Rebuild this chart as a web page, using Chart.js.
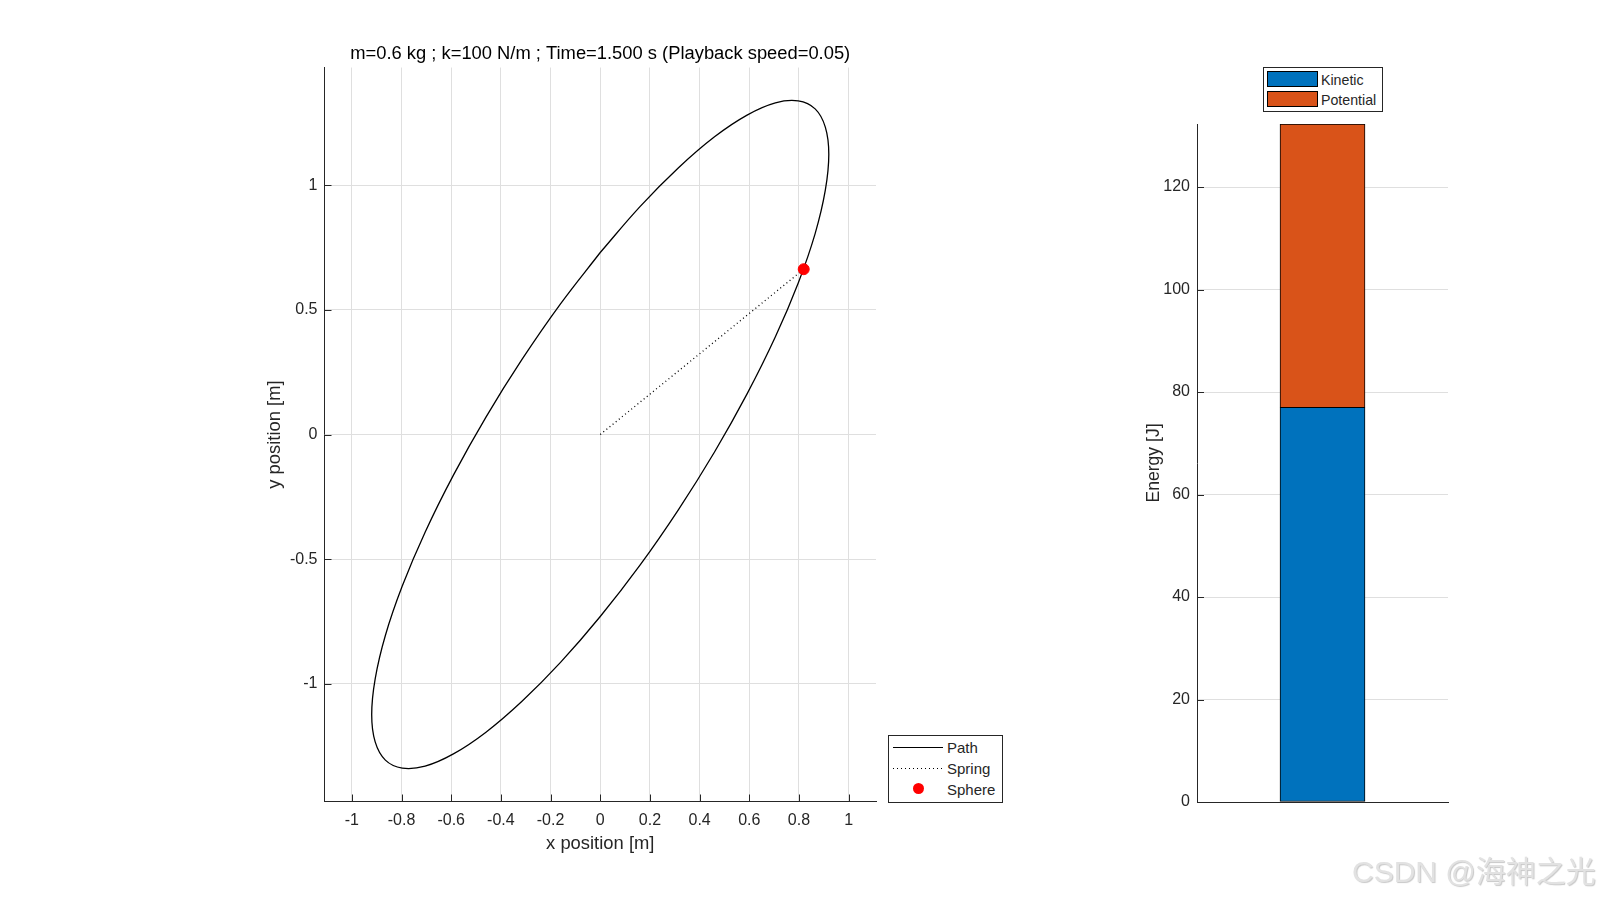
<!DOCTYPE html>
<html>
<head>
<meta charset="utf-8">
<title>Spring orbit</title>
<script src="https://cdn.jsdelivr.net/npm/chart.js@4"></script>
<style>
  html, body { margin: 0; padding: 0; background: #fff; }
  body { width: 1600px; height: 900px; position: relative; overflow: hidden; font-family: "Liberation Sans", Arial, sans-serif; }
  canvas { position: absolute; top: 0; }
  #orbit { left: 0; }
  #energy { left: 1140px; }
  .legend { position: absolute; background: #fff; border: 1px solid #262626; box-sizing: border-box; color: #262626; }
  .legend span { position: absolute; white-space: nowrap; line-height: 18px; }
  .legend i { position: absolute; display: block; }
  #orbitLegend { left: 888px; top: 735px; width: 115px; height: 68px; font-size: 15px; }
  #energyLegend { left: 1263px; top: 67px; width: 120px; height: 45px; font-size: 14.2px; }
  .patch { border: 1px solid #000; box-sizing: border-box; }
  #mark { position: absolute; left: 1352px; top: 854px; font-size: 30px; line-height: 36px; white-space: nowrap;
    color: #e2e2e2; text-shadow: 1px 1px 1px #c8c8c8; font-family: "Liberation Sans", "Noto Sans CJK SC", sans-serif; }
</style>
</head>
<body>
<canvas id="orbit" width="1040" height="900"></canvas>
<canvas id="energy" width="460" height="900"></canvas>

<div class="legend" id="orbitLegend">
  <i style="left:4px;top:11px;width:50px;height:1px;background:#000"></i>
  <span style="left:58px;top:3px">Path</span>
  <i style="left:4px;top:32px;width:50px;height:1px;background:repeating-linear-gradient(90deg,#000 0 1px,transparent 1px 4px)"></i>
  <span style="left:58px;top:24px">Spring</span>
  <i style="left:24px;top:47px;width:11px;height:11px;border-radius:50%;background:#ff0000"></i>
  <span style="left:58px;top:45px">Sphere</span>
</div>
<div class="legend" id="energyLegend">
  <i class="patch" style="left:3px;top:3px;width:51px;height:16px;background:#0072BD"></i>
  <span style="left:57px;top:3px">Kinetic</span>
  <i class="patch" style="left:3px;top:23px;width:51px;height:16px;background:#D95319"></i>
  <span style="left:57px;top:23px">Potential</span>
</div>
<div id="mark">CSDN @海神之光</div>

<script>
// path
const pathX = [0, -0.16, -0.315, -0.46, -0.591, -0.705, -0.797, -0.865, -0.906, -0.92,
  -0.906, -0.865, -0.797, -0.705, -0.591, -0.46, -0.315, -0.16, 0,
  0.16, 0.315, 0.46, 0.591, 0.705, 0.797, 0.865, 0.906, 0.92,
  0.906, 0.865, 0.797, 0.705, 0.591, 0.46, 0.315, 0.16, 0];
const pathY = [0.73, 0.524, 0.301, 0.07, -0.163, -0.392, -0.608, -0.806, -0.98, -1.124,
  -1.233, -1.306, -1.338, -1.33, -1.281, -1.194, -1.07, -0.914, -0.73,
  -0.524, -0.301, -0.07, 0.163, 0.392, 0.608, 0.806, 0.98, 1.124,
  1.233, 1.306, 1.338, 1.33, 1.281, 1.194, 1.07, 0.914, 0.73];
const springX = [0, 0.819];
const springY = [0, 0.663];
const sphereX = [0.819];
const sphereY = [0.663];
const xTicks = [-1, -0.8, -0.6, -0.4, -0.2, 0, 0.2, 0.4, 0.6, 0.8, 1];
const yTicks = [-1, -0.5, 0, 0.5, 1];

// energy bar
const barLabels = ["E"];
const kinetic = [77];
const potential = [55.3];
const energyTicks = [0, 20, 40, 60, 80, 100, 120];

const toPoints = (xs, ys) => xs.map((x, i) => ({ x: x, y: ys[i] }));

const axisColor = "#262626";
const gridColor = "#dfdfdf";
const tickFont = { family: "Liberation Sans", size: 16 };
const labelFont = { family: "Liberation Sans", size: 18.4 };

// fixed axis size so the plot area lands where it should
const fitAxis = (size) => (scale) => {
  if (scale.isHorizontal()) scale.height = size;
  else scale.width = size;
  scale.paddingLeft = scale.paddingRight = scale.paddingTop = scale.paddingBottom = 0;
};
const useTicks = (values) => (scale) => {
  scale.ticks = values.map((v) => ({ value: v }));
};

// matlab style ticks, pointing into the plot
const innerTicks = {
  id: "innerTicks",
  afterDatasetsDraw(chart) {
    const { ctx, chartArea } = chart;
    ctx.save();
    ctx.strokeStyle = axisColor;
    ctx.lineWidth = 1;
    Object.values(chart.scales).forEach((scale) => {
      scale.ticks.forEach((t) => {
        const p = Math.round(scale.getPixelForValue(t.value)) + 0.5;
        ctx.beginPath();
        if (scale.isHorizontal()) {
          ctx.moveTo(p, chartArea.bottom);
          ctx.lineTo(p, chartArea.bottom - 7);
        } else {
          ctx.moveTo(chartArea.left, p);
          ctx.lineTo(chartArea.left + 7, p);
        }
        ctx.stroke();
      });
    });
    ctx.restore();
  },
};

new Chart(document.getElementById("orbit"), {
  type: "scatter",
  plugins: [innerTicks],
  data: {
    datasets: [
      {
        label: "Path",
        data: toPoints(pathX, pathY),
        showLine: true,
        borderColor: "#000",
        borderWidth: 1.3,
        pointRadius: 0,
        tension: 0.4,
        order: 2,
      },
      {
        label: "Spring",
        data: toPoints(springX, springY),
        showLine: true,
        borderColor: "#000",
        borderWidth: 1.3,
        borderDash: [1, 3],
        pointRadius: 0,
        order: 1,
      },
      {
        label: "Sphere",
        data: toPoints(sphereX, sphereY),
        backgroundColor: "#ff0000",
        borderColor: "#ff0000",
        pointRadius: 5.5,
        order: 0,
      },
    ],
  },
  options: {
    responsive: false,
    animation: false,
    layout: {
      padding: { left: 264, right: 164, top: 43, bottom: 45.4 },
    },
    plugins: {
      legend: { display: false },
      tooltip: { enabled: false },
      title: {
        display: true,
        fullSize: false,
        text: "m=0.6 kg ; k=100 N/m ; Time=1.500 s (Playback speed=0.05)",
        color: "#000",
        font: { family: "Liberation Sans", size: 18.35, weight: "normal" },
        padding: { top: 0, bottom: 2.5 },
      },
    },
    scales: {
      x: {
        type: "linear",
        position: "bottom",
        min: -1.11,
        max: 1.11,
        afterBuildTicks: useTicks(xTicks),
        afterFit: fitAxis(53.1),
        grid: { color: gridColor, drawTicks: false },
        border: { color: axisColor },
        ticks: {
          color: axisColor,
          font: tickFont,
          padding: 9,
          maxRotation: 0,
          autoSkip: false,
          callback: (v) => String(v),
        },
        title: { display: true, text: "x position [m]", color: axisColor, font: labelFont, padding: 0 },
      },
      y: {
        type: "linear",
        position: "left",
        min: -1.472,
        max: 1.472,
        afterBuildTicks: useTicks(yTicks),
        afterFit: fitAxis(60.5),
        grid: { color: gridColor, drawTicks: false },
        border: { color: axisColor },
        ticks: {
          color: axisColor,
          font: tickFont,
          padding: 7,
          autoSkip: false,
          callback: (v) => String(v),
        },
        title: { display: true, text: "y position [m]", color: axisColor, font: labelFont, padding: 0 },
      },
    },
  },
});

new Chart(document.getElementById("energy"), {
  type: "bar",
  plugins: [innerTicks],
  data: {
    labels: barLabels,
    datasets: [
      {
        label: "Kinetic",
        data: kinetic,
        backgroundColor: "#0072BD",
        borderColor: "#000",
        borderWidth: 1,
        borderSkipped: false,
        barThickness: 85,
      },
      {
        label: "Potential",
        data: potential,
        backgroundColor: "#D95319",
        borderColor: "#000",
        borderWidth: { top: 1, left: 1, right: 1, bottom: 0 },
        borderSkipped: false,
        barThickness: 85,
      },
    ],
  },
  options: {
    responsive: false,
    animation: false,
    layout: {
      padding: { left: 4, right: 152, top: 124, bottom: 98 },
    },
    plugins: {
      legend: { display: false },
      tooltip: { enabled: false },
    },
    scales: {
      x: {
        stacked: true,
        position: "bottom",
        afterBuildTicks: useTicks([]),
        afterFit: fitAxis(0),
        grid: { display: false },
        border: { color: axisColor },
        ticks: { display: false },
      },
      y: {
        stacked: true,
        position: "left",
        min: 0,
        max: 132.3,
        afterBuildTicks: useTicks(energyTicks),
        afterFit: fitAxis(53),
        grid: { color: gridColor, drawTicks: false },
        border: { color: axisColor },
        ticks: {
          color: axisColor,
          font: tickFont,
          padding: 7,
          autoSkip: false,
          callback: (v) => String(v),
        },
        title: {
          display: true,
          text: "Energy [J]",
          color: axisColor,
          font: { family: "Liberation Sans", size: 17.6 },
          padding: 0,
        },
      },
    },
  },
});
</script>
</body>
</html>
